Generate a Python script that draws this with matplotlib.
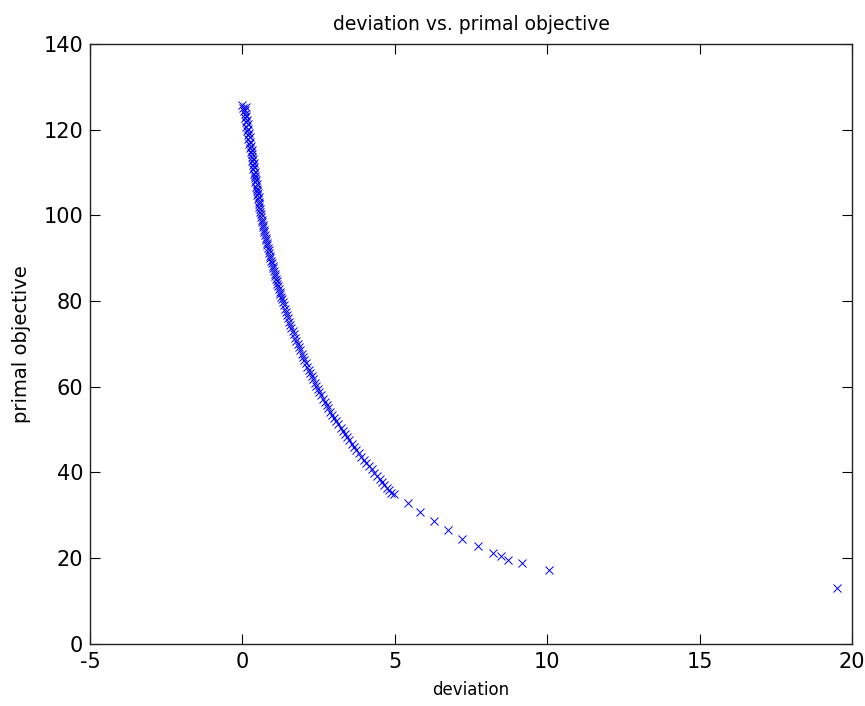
import matplotlib
matplotlib.use("Agg")
import matplotlib.pyplot as plt

plt.rcParams['font.family'] = ['DejaVu Sans']
plt.rcParams['axes.unicode_minus'] = False

# deviation (x) and primal objective (y)
deviation = [
    # dense top part
    0.00, 0.12, 0.02, 0.10, 0.04, 0.07, 0.12, 0.08, 0.14, 0.11, 0.17, 0.13,
    0.19, 0.16, 0.21, 0.18, 0.24, 0.20, 0.26, 0.23, 0.28, 0.25, 0.31, 0.27,
    0.33, 0.30, 0.35, 0.32, 0.37, 0.34, 0.39, 0.36, 0.41, 0.38, 0.43, 0.41,
    0.45, 0.43, 0.47, 0.45, 0.49, 0.47, 0.51, 0.49, 0.53, 0.51, 0.54,
    # 103 -> 80
    0.53, 0.55, 0.57, 0.58, 0.60, 0.61, 0.63, 0.65, 0.67, 0.69, 0.70, 0.72,
    0.74, 0.76, 0.78, 0.80, 0.82, 0.84, 0.86, 0.88, 0.90, 0.92, 0.94, 0.97,
    0.99, 1.01, 1.03, 1.06, 1.08, 1.10, 1.13, 1.15, 1.17, 1.20, 1.22, 1.25,
    1.27, 1.30,
    # 80 -> 58
    1.32, 1.35, 1.39, 1.42, 1.46, 1.50, 1.53, 1.57, 1.61, 1.65, 1.69, 1.73,
    1.77, 1.81, 1.85, 1.90, 1.94, 1.98, 2.03, 2.08, 2.12, 2.17, 2.22, 2.27,
    2.32, 2.37, 2.42, 2.47, 2.52,
    # 58 -> 35
    2.58, 2.64, 2.70, 2.76, 2.82, 2.89, 2.95, 3.02, 3.08, 3.15, 3.22, 3.29,
    3.36, 3.43, 3.51, 3.58, 3.66, 3.74, 3.82, 3.90, 3.98, 4.06, 4.15, 4.24,
    4.32, 4.41, 4.50, 4.58, 4.66, 4.73, 4.80, 4.88, 4.96,
    # isolated points
    5.44, 5.84, 6.28, 6.75, 7.21, 7.72, 8.22, 8.49, 8.71, 9.18, 10.06, 19.50,
]
primal_objective = [
    125.6, 125.3, 125.0, 124.6, 124.2, 123.7, 123.2, 122.7, 122.2, 121.7, 121.2, 120.7,
    120.2, 119.7, 119.2, 118.7, 118.2, 117.7, 117.2, 116.7, 116.2, 115.7, 115.2, 114.7,
    114.2, 113.7, 113.2, 112.7, 112.2, 111.7, 111.2, 110.7, 110.2, 109.7, 109.2, 108.7,
    108.2, 107.7, 107.2, 106.7, 106.2, 105.7, 105.2, 104.7, 104.2, 103.7, 103.2,
    102.6, 102.0, 101.4, 100.8, 100.2, 99.6, 99.0, 98.4, 97.8, 97.2, 96.6, 96.0,
    95.4, 94.8, 94.2, 93.6, 93.0, 92.4, 91.8, 91.2, 90.6, 90.0, 89.4, 88.8,
    88.2, 87.6, 87.0, 86.4, 85.8, 85.2, 84.6, 84.0, 83.4, 82.8, 82.2, 81.6,
    81.0, 80.4,
    79.7, 78.95, 78.2, 77.45, 76.7, 75.95, 75.2, 74.45, 73.7, 72.95, 72.2, 71.45,
    70.7, 69.95, 69.2, 68.45, 67.7, 66.95, 66.2, 65.45, 64.7, 63.95, 63.2, 62.45,
    61.7, 60.95, 60.2, 59.45, 58.7,
    57.95, 57.2, 56.45, 55.7, 54.95, 54.2, 53.45, 52.7, 51.95, 51.2, 50.45, 49.7,
    48.95, 48.2, 47.45, 46.7, 45.95, 45.2, 44.45, 43.7, 42.95, 42.2, 41.45, 40.7,
    39.95, 39.2, 38.45, 37.7, 37.0, 36.4, 35.8, 35.3, 34.9,
    32.8, 30.7, 28.7, 26.6, 24.5, 22.9, 21.1, 20.4, 19.6, 18.8, 17.3, 13.1,
]

x_ticks = [-5, 0, 5, 10, 15, 20]
y_ticks = [0, 20, 40, 60, 80, 100, 120, 140]

fig = plt.figure(figsize=(8.65, 7.06), dpi=100)
ax = fig.add_axes([0.104, 0.088, 0.881, 0.850])

ax.plot(deviation, primal_objective, linestyle='none', marker='x',
        color=(0, 0, 1), markersize=6, markeredgewidth=0.7)

ax.set_xlim(-5, 20)
ax.set_ylim(0, 140)
ax.set_xticks(x_ticks)
ax.set_yticks(y_ticks)
ax.tick_params(direction='in', length=7, width=0.8, top=True, right=True,
               labelsize=15)
ax.tick_params(axis='x', pad=6)
ax.tick_params(axis='y', pad=5)
for s in ax.spines.values():
    s.set_linewidth(1.0)
    s.set_color('#222222')

ax.set_title('deviation vs. primal objective', fontsize=13.5, pad=10)
ax.set_xlabel('deviation', fontsize=12, labelpad=6)
ax.set_ylabel('primal objective', fontsize=14, labelpad=9)

fig.savefig('out.png', dpi=100)
